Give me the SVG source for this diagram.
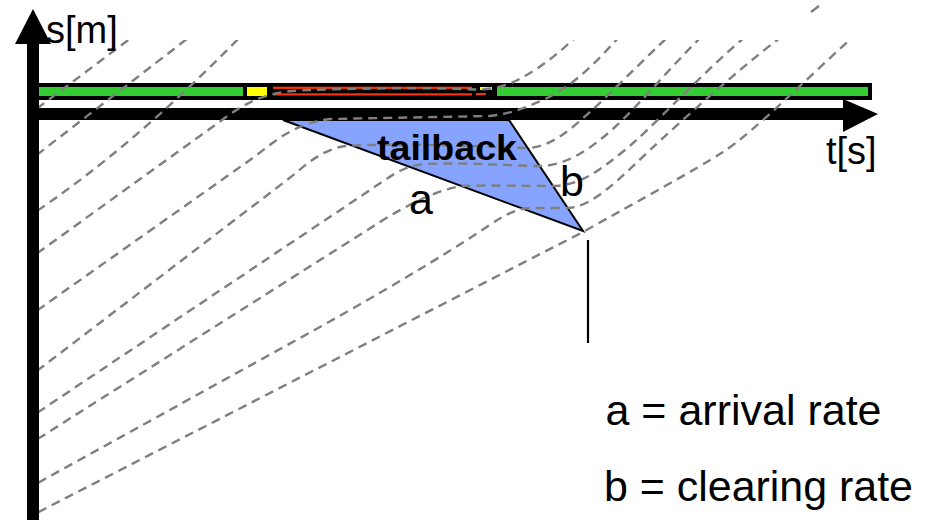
<svg xmlns="http://www.w3.org/2000/svg" width="930" height="520" viewBox="0 0 930 520">
  <style>
    .traj { fill: none; stroke: #7f7f7f; stroke-width: 2.4; stroke-dasharray: 9 6; }
    .lbl { font-family: "Liberation Sans", Arial, sans-serif; fill: #000; }
  </style>
  <defs>
    <clipPath id="plotClip">
      <rect x="39" y="40" width="891" height="480"/>
    </clipPath>
  </defs>
  <rect width="930" height="520" fill="#fff"/>

  <g id="signal-bar">
    <rect x="33" y="83" width="839" height="17" fill="#000"/>
    <rect x="39" y="87" width="204" height="9" fill="#33cc33"/>
    <rect x="247" y="87" width="20" height="9" fill="#ffff00"/>
    <rect x="273" y="86.7" width="199" height="2.2" fill="#ff3300"/>
    <rect x="273" y="93.3" width="199" height="2.2" fill="#ff3300"/>
    <rect x="480" y="87" width="12" height="3" fill="#ffff00"/>
    <rect x="476" y="93" width="10" height="2" fill="#ff3300"/>
    <rect x="497" y="87" width="371" height="9" fill="#33cc33"/>
  </g>

  <g id="tailback">
    <polygon points="283,120 509,120 583,231" fill="#86a3fd" stroke="#000" stroke-width="2" stroke-linejoin="miter"/>
  </g>

  <g id="axes">
    <rect x="27" y="43" width="12" height="477" fill="#000"/>
    <polygon points="33,9 51,44 15,44" fill="#000"/>
    <rect x="27" y="108" width="818" height="12" fill="#000"/>
    <polygon points="843,99 878,114 843,132" fill="#000"/>
  </g>

  <g id="marker-line">
    <line x1="588" y1="240" x2="588" y2="343" stroke="#000" stroke-width="2.2"/>
  </g>

  <g id="trajectories" clip-path="url(#plotClip)">
    <path class="traj" d="M25,117.5 L135,35"/>
    <path class="traj" d="M25,164 L192,35"/>
    <path class="traj" d="M25,219 Q130,150 243,34"/>
    <path class="traj" d="M25,262 L222,120 C245,103 265,92 300,90.5 C360,88 430,87.5 475,89.5 C500,90 515,82 530,73 C548,62 562,50 578,35"/>
    <path class="traj" d="M25,319 L250,160 C270,146 290,124 330,119 L490,116 C510,114 525,108 545,99 C575,85 598,60 620,36"/>
    <path class="traj" d="M25,380 L287,180 C305,166 320,150 345,146 C400,143 470,146 526,148 C550,148 570,130 590,112 C610,94 640,63 670,35"/>
    <path class="traj" d="M25,421 L385,180 C398,171 410,165 425,164 C470,162 510,166 540,166 C565,166 590,150 615,127 C640,104 668,70 700,38"/>
    <path class="traj" d="M25,447 L380,222 C410,203 440,189 462,186 C490,185 525,186 552,186 C580,186 600,170 625,150 C650,130 700,75 745,37"/>
    <path class="traj" d="M25,490 L300,338 C360,305 420,270 470,238 C495,222 510,209 530,208 L567,208 C592,208 620,178 650,150 C680,122 740,68 781,37"/>
    <path class="traj" d="M25,519 L583,232 C640,200 695,170 723,152 C755,131 805,80 853,37"/>
  </g>
  <line x1="811" y1="12" x2="819" y2="6" stroke="#7f7f7f" stroke-width="2.4"/>

  <g id="labels">
    <text class="lbl" x="46" y="43" font-size="38">s[m]</text>
    <text class="lbl" x="826" y="164" font-size="38">t[s]</text>
    <text class="lbl" x="377" y="159.5" font-size="35" font-weight="bold" textLength="140" lengthAdjust="spacingAndGlyphs">tailback</text>
    <text class="lbl" x="409" y="214" font-size="43">a</text>
    <text class="lbl" x="560" y="196" font-size="43">b</text>
    <text class="lbl" x="605.5" y="425" font-size="42" textLength="276" lengthAdjust="spacingAndGlyphs">a = arrival rate</text>
    <text class="lbl" x="604" y="501" font-size="42" textLength="309" lengthAdjust="spacingAndGlyphs">b = clearing rate</text>
  </g>
</svg>
